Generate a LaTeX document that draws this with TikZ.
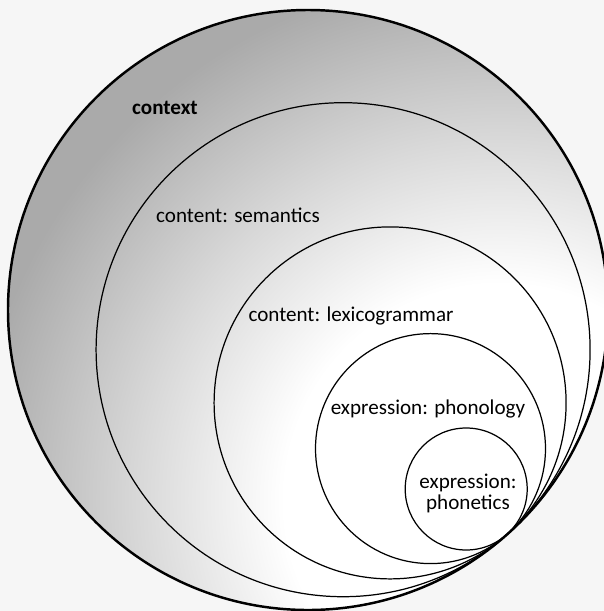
\documentclass[tikz,border=0pt]{standalone}
\usepackage{fontspec}
\setmainfont{Carlito}
\usepackage{tikz}

\definecolor{ctxgray}{RGB}{170,170,170}
\definecolor{pagegray}{RGB}{246,246,246}
\pgfdeclareradialshading{ctxfade}{\pgfpointorigin}{color(0bp)=(white); color(9bp)=(white); color(15bp)=(ctxgray!45!white); color(22bp)=(ctxgray); color(50bp)=(ctxgray)}

\begin{document}
\begin{tikzpicture}[scale=0.2]
		\tikzstyle{every node}+=[inner sep=0pt, font=\fontsize{12}{12}\selectfont, align=center]
		\tikzstyle{ring}=[black, line width=0.7pt]
		\useasboundingbox (0,0) rectangle (60.4,-61.1);
		\fill [pagegray] (0,0) rectangle (60.4,-61.1);
		% shaded disc of the context
		\begin{scope}
			\clip (30.8,-31.0) circle (30);
			\shade [shading=ctxfade] (50,-50) circle (60);
		\end{scope}
		\draw [black, line width=1.4pt] (30.8,-31.0) circle (30);
		\draw [ring] (34.31,-34.97) circle (24.7);
		\draw [ring] (39.01,-40.29) circle (17.6);
		\draw [ring] (43.05,-44.86) circle (11.5);
		\draw [ring] (46.62,-48.90) circle (6.1);
		\node (context) at (16.5,-10.8) {\bfseries context};
		\node (semantics) at (23.8,-21.5) {content: semantics};
		\node (lexicogrammar) at (35.1,-31.6) {content: lexicogrammar};
		\node (phonology) at (42.8,-40.9) {expression: phonology};
		\node (phonetics) at (46.8,-49.3) {expression:\\phonetics};
		\end{tikzpicture}
\end{document}
